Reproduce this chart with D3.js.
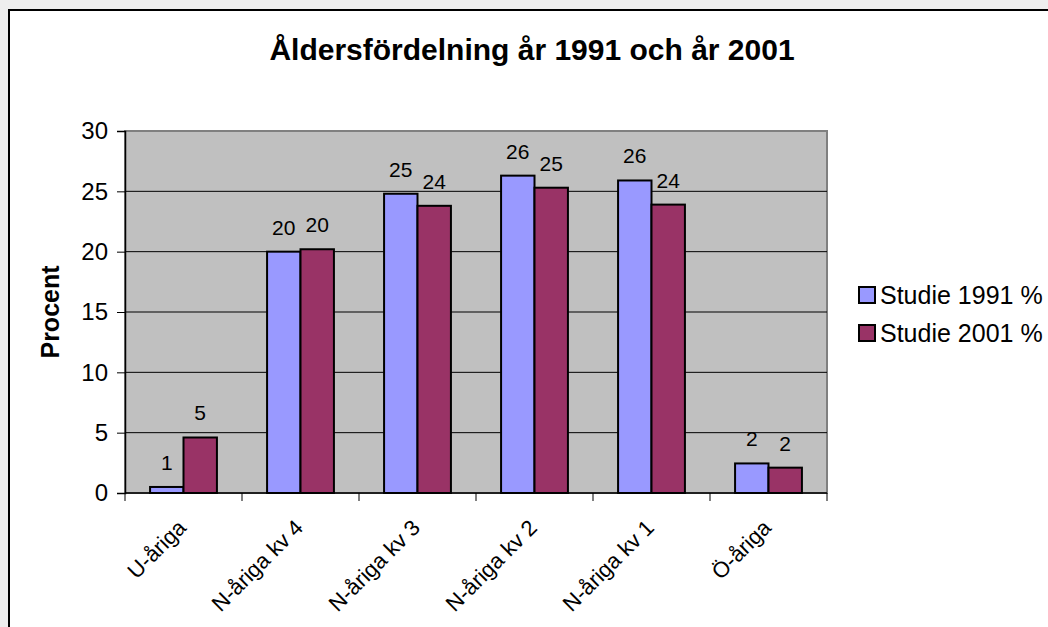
<!DOCTYPE html>
<html>
<head>
<meta charset="utf-8">
<script src="https://cdn.jsdelivr.net/npm/d3@7"></script>
<style>
  body { margin: 0; background: #eeeeee; }
  svg { display: block; font-family: "Liberation Sans", Arial, sans-serif; }
</style>
</head>
<body>
<div id="chart"></div>
<script>
// data
var categories = ["U-åriga", "N-åriga kv 4", "N-åriga kv 3", "N-åriga kv 2", "N-åriga kv 1", "Ö-åriga"];
var series = ["Studie 1991 %", "Studie 2001 %"];
var values1991 = [0.5, 20.0, 24.8, 26.3, 25.9, 2.45];
var values2001 = [4.6, 20.2, 23.8, 25.3, 23.9, 2.1];
var yTicks = [0, 5, 10, 15, 20, 25, 30];
var colors = ["#9999ff", "#993366"];

var W = 1048, H = 627;
var plot = {left: 125, top: 131, right: 827, bottom: 493};

var svg = d3.select("#chart")
  .append("svg")
    .attr("width", W)
    .attr("height", H);

// chart frame
svg.append("rect")
  .attr("x", 9).attr("y", 10)
  .attr("width", W + 20).attr("height", H + 20)
  .attr("fill", "#ffffff")
  .attr("stroke", "#000000")
  .attr("stroke-width", 2);

// title
svg.append("text")
  .attr("x", 532)
  .attr("y", 60)
  .attr("text-anchor", "middle")
  .style("font-size", "30px")
  .style("font-weight", "bold")
  .text("Åldersfördelning år 1991 och år 2001");

// scales
var x0 = d3.scaleBand()
  .domain(categories)
  .range([plot.left, plot.right])
  .padding(0);

var barW = x0.bandwidth() / 3.5;   // gap width 150%
var x1 = d3.scaleBand()
  .domain(series)
  .range([0, 2 * barW]);

var y = d3.scaleLinear()
  .domain([0, 30])
  .range([plot.bottom, plot.top]);

// plot background
svg.append("rect")
  .attr("x", plot.left).attr("y", plot.top)
  .attr("width", plot.right - plot.left)
  .attr("height", plot.bottom - plot.top)
  .attr("fill", "#c0c0c0")
  .attr("stroke", "#808080")
  .attr("stroke-width", 2);

// gridlines
svg.append("g")
  .selectAll("line")
  .data(yTicks.filter(d => d > 0 && d < 30))
  .join("line")
    .attr("x1", plot.left).attr("x2", plot.right)
    .attr("y1", d => y(d)).attr("y2", d => y(d))
    .attr("stroke", "#000000")
    .attr("stroke-width", 1);

// Y axis
var yAxis = svg.append("g")
  .attr("transform", "translate(" + plot.left + ",0)")
  .call(d3.axisLeft(y).tickValues(yTicks).tickSize(8).tickPadding(9));
yAxis.select(".domain").attr("stroke", "#000").attr("stroke-width", 1.5);
yAxis.selectAll(".tick line").attr("stroke", "#000");
yAxis.selectAll(".tick text")
  .style("font-size", "24px")
  .style("font-family", "Liberation Sans, Arial, sans-serif")
  .attr("fill", "#000");

// X axis: ticks at category boundaries
var xAxis = svg.append("g")
  .attr("transform", "translate(0," + plot.bottom + ")");
xAxis.append("line")
  .attr("x1", plot.left).attr("x2", plot.right)
  .attr("stroke", "#000").attr("stroke-width", 1.5);
xAxis.selectAll(".btick")
  .data(categories.concat([null]))
  .join("line")
    .attr("class", "btick")
    .attr("x1", (d, i) => plot.left + i * x0.bandwidth())
    .attr("x2", (d, i) => plot.left + i * x0.bandwidth())
    .attr("y1", 0).attr("y2", 8)
    .attr("stroke", "#000");
xAxis.selectAll(".clabel")
  .data(categories)
  .join("text")
    .attr("class", "clabel")
    .attr("text-anchor", "end")
    .attr("transform", d => "translate(" + (x0(d) + x0.bandwidth() / 2 + 4) + ",36) rotate(-45)")
    .style("font-size", "22px")
    .text(d => d);

// y title
svg.append("text")
  .attr("transform", "translate(59," + ((plot.top + plot.bottom) / 2) + ") rotate(-90)")
  .attr("text-anchor", "middle")
  .style("font-size", "25px")
  .style("font-weight", "bold")
  .text("Procent");

// bars
var rows = categories.map((c, i) => ({cat: c, vals: [values1991[i], values2001[i]]}));

var groups = svg.append("g")
  .selectAll("g")
  .data(rows)
  .join("g")
    .attr("transform", d => "translate(" + (x0(d.cat) + (x0.bandwidth() - 2 * barW) / 2) + ",0)");

groups.selectAll("rect")
  .data(d => d.vals.map((v, j) => ({s: series[j], v: v, j: j})))
  .join("rect")
    .attr("x", d => x1(d.s))
    .attr("y", d => y(d.v))
    .attr("width", x1.bandwidth())
    .attr("height", d => y(0) - y(d.v))
    .attr("fill", d => colors[d.j])
    .attr("stroke", "#000")
    .attr("stroke-width", 2);

groups.selectAll("text")
  .data(d => d.vals.map((v, j) => ({s: series[j], v: v})))
  .join("text")
    .attr("x", d => x1(d.s) + x1.bandwidth() / 2)
    .attr("y", d => y(d.v) - 17)
    .attr("text-anchor", "middle")
    .style("font-size", "21px")
    .text(d => Math.round(d.v));

// legend
var legend = svg.append("g")
  .selectAll("g")
  .data(series)
  .join("g")
    .attr("transform", (d, i) => "translate(859," + (295 + i * 38) + ")");
legend.append("rect")
  .attr("x", 0).attr("y", -8)
  .attr("width", 16).attr("height", 16)
  .attr("fill", (d, i) => colors[i])
  .attr("stroke", "#000")
  .attr("stroke-width", 2);
legend.append("text")
  .attr("x", 21)
  .attr("y", 9)
  .style("font-size", "25px")
  .text(d => d);
</script>
</body>
</html>
